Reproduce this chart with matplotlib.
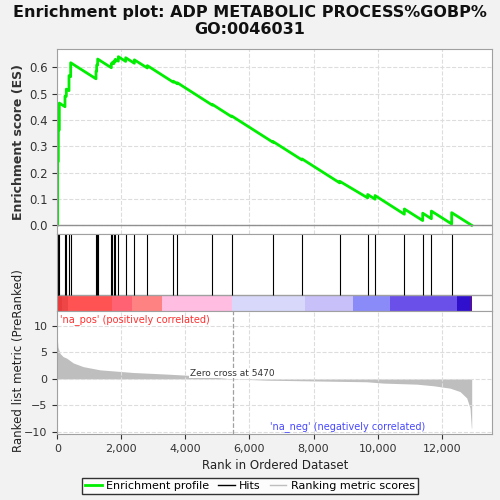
import matplotlib
matplotlib.use('agg')
import matplotlib.pyplot as plt
from matplotlib.lines import Line2D

# data
n_genes = 12937
hits = [11, 32, 63, 240, 282, 365, 417, 1208, 1229, 1260, 1687, 1718, 1770,
        1812, 1905, 2135, 2405, 2811, 3622, 3747, 4840, 5444, 6734, 7640,
        8816, 9690, 9919, 10834, 11407, 11678, 12312]
es_before = [0.0, 0.242, 0.362, 0.450, 0.490, 0.511, 0.564, 0.556, 0.585,
             0.608, 0.598, 0.614, 0.614, 0.621, 0.623, 0.622, 0.615, 0.597,
             0.543, 0.537, 0.456, 0.412, 0.315, 0.248, 0.161, 0.104, 0.099,
             0.042, 0.018, 0.025, 0.005]
es_after = [0.242, 0.362, 0.464, 0.490, 0.517, 0.568, 0.617, 0.585, 0.608,
            0.631, 0.614, 0.618, 0.624, 0.630, 0.640, 0.636, 0.628, 0.606,
            0.547, 0.541, 0.459, 0.415, 0.318, 0.252, 0.167, 0.117, 0.113,
            0.062, 0.046, 0.054, 0.048]

metric_rank = [0, 20, 84, 180, 293, 500, 812, 1333, 2373, 3414, 4455, 5470,
               6537, 8618, 9659, 10180, 11220, 11740, 12260, 12573, 12781,
               12885, 12927, 12937]
metric_val = [7.6, 6.0, 4.8, 4.2, 3.9, 3.0, 2.3, 1.7, 1.2, 0.9, 0.55, 0.0,
              -0.25, -0.45, -0.55, -0.8, -1.0, -1.3, -1.75, -2.4, -3.6,
              -5.5, -9.3, -9.3]

band_edges = [0, 156, 343, 1698, 2323, 3259, 5445, 7733, 9241, 10387, 12469,
              12884, 12937]
band_colors = ['#E83C3C', '#EE4646', '#FF5252', '#FF6272', '#FF8282',
               '#FFBDE2', '#D8D8FA', '#C8C0F8', '#8A8AF8', '#6A50E8',
               '#3010CC', '#5010A0']

zero_cross = 5470

es_x = [0]
es_y = [0.0]
for h, b, a in zip(hits, es_before, es_after):
    es_x += [h, h]
    es_y += [b, a]
es_x.append(n_genes)
es_y.append(0.0)

fig = plt.figure(figsize=(5, 5), dpi=100, facecolor='#F2F2F2')
left, width = 0.1146, 0.87
ax0 = fig.add_axes([left, 0.532, width, 0.3694])
ax1 = fig.add_axes([left, 0.378, width, 0.154])
ax2 = fig.add_axes([left, 0.132, width, 0.246])
xmax = 13580

for ax in (ax0, ax1, ax2):
    ax.set_xlim(0, xmax)
    ax.set_facecolor('white')
    for s in ax.spines.values():
        s.set_color('#A0A0A0')

# top: enrichment profile
ax0.plot(es_x, es_y, color='#00EE00', lw=2)
ax0.axhline(0, color='#909090', lw=1)
ax0.set_ylim(-0.033, 0.668)
ax0.set_yticks([0.0, 0.1, 0.2, 0.3, 0.4, 0.5, 0.6])
ax0.set_yticklabels(['0.0', '0.1', '0.2', '0.3', '0.4', '0.5', '0.6'])
ax0.set_xticks(range(0, 14000, 2000))
ax0.tick_params(axis='x', bottom=False, labelbottom=False)
ax0.grid(True, ls='--', color='#DDDDDD', lw=0.8)
ax0.set_ylabel('Enrichment score (ES)', fontsize=9, fontweight='bold',
               color='#333333')
ax0.tick_params(axis='y', labelsize=8.5, colors='#333333')

# middle: hits and colour band
band_h = 0.208
for lo, hi, c in zip(band_edges[:-1], band_edges[1:], band_colors):
    ax1.bar(lo, band_h, width=hi - lo, bottom=0, align='edge', color=c,
            edgecolor='none')
ax1.axhline(band_h, color='#A0A0A0', lw=1)
ax1.vlines(hits, band_h, 1, color='black', lw=0.8)
ax1.set_ylim(0, 1)
ax1.set_xticks([])
ax1.set_yticks([])

# bottom: ranked list metric
ax2.fill_between(metric_rank, metric_val, 0, color='#BEBEBE', lw=0)
ax2.axvline(zero_cross, color='#A0A0A0', ls='--', lw=0.9)
ax2.set_ylim(-10.4, 12.8)
ax2.set_yticks([-10, -5, 0, 5, 10])
ax2.set_xticks(range(0, 14000, 2000))
ax2.set_xticklabels(['0', '2,000', '4,000', '6,000', '8,000', '10,000',
                     '12,000'])
ax2.grid(True, ls='--', color='#DDDDDD', lw=0.8)
ax2.tick_params(labelsize=8, colors='#333333')
ax2.set_xlabel('Rank in Ordered Dataset', fontsize=8.5, color='#222222')
ax2.set_ylabel('Ranked list metric (PreRanked)', fontsize=8.5,
               color='#222222')
ax2.text(zero_cross, 1.1, 'Zero cross at ' + str(zero_cross), ha='center',
         va='center', fontsize=6.5, color='#333333',
         bbox=dict(facecolor='white', edgecolor='none', pad=0.5))
ax2.text(80, 12.3, "'na_pos' (positively correlated)", color='#FF3030',
         fontsize=7, va='top', ha='left')
ax2.text(11500, -9.0, "'na_neg' (negatively correlated)", color='#4848FF',
         fontsize=7, va='center', ha='right')

ax0.yaxis.set_label_coords(-0.075, 0.5)
ax2.yaxis.set_label_coords(-0.075, 0.6)

fig.suptitle('Enrichment plot: ADP METABOLIC PROCESS%GOBP%\nGO:0046031',
             fontsize=11.5, fontweight='bold', y=0.99, color='#111111')

handles = [Line2D([], [], color='#00EE00', lw=2),
           Line2D([], [], color='black', lw=1),
           Line2D([], [], color='#BEBEBE', lw=1)]
fig.legend(handles, ['Enrichment profile', 'Hits', 'Ranking metric scores'],
           loc='lower center', bbox_to_anchor=(0.5, 0.0), ncol=3,
           fontsize=8, frameon=True, fancybox=False, edgecolor='black',
           handlelength=1.5, handletextpad=0.4, columnspacing=0.8,
           borderpad=0.3)

plt.savefig('out.png', dpi=100, facecolor=fig.get_facecolor())
